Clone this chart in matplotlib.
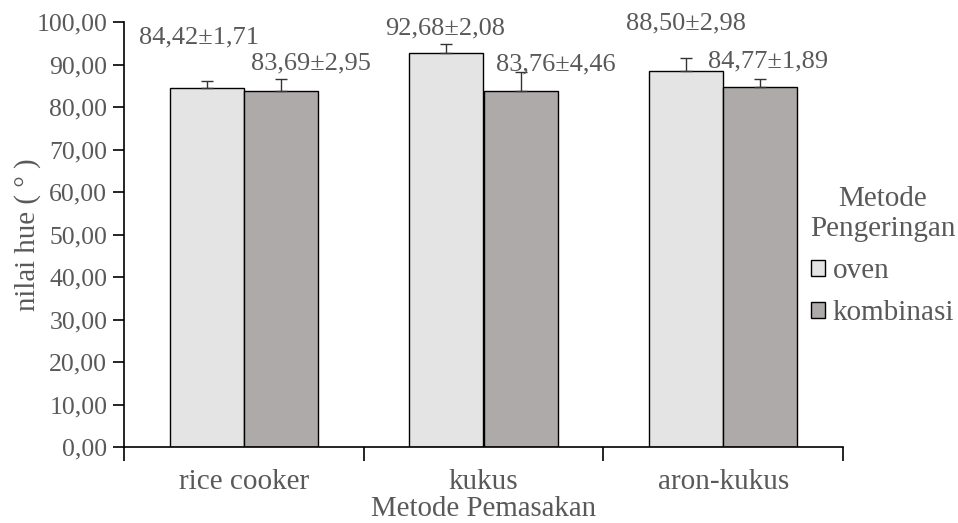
import numpy as np
import matplotlib.pyplot as plt
from matplotlib.patches import Patch

plt.rcParams['font.family'] = ['Liberation Serif', 'DejaVu Serif']

# data
metode_masak = ["rice cooker", "kukus", "aron-kukus"]
oven = [84.42, 92.68, 88.50]
oven_sd = [1.71, 2.08, 2.98]
kombinasi = [83.69, 83.76, 84.77]
kombinasi_sd = [2.95, 4.46, 1.89]
y_ticks = [0, 10, 20, 30, 40, 50, 60, 70, 80, 90, 100]

text_col = "#595959"
fs_tick = 18.5
fs_val = 19
fs_cat = 21
fs_title = 20.8

fig = plt.figure(figsize=(9.58, 5.23), dpi=100)
ax = fig.add_axes([124/958, 1-447/523, (843-124)/958, 425/523])

x = np.arange(len(metode_masak))
w = 0.31
ax.bar(x - w/2, oven, w, color="#e4e4e4", edgecolor="black", lw=1.0, zorder=2)
ax.bar(x + w/2, kombinasi, w, color="#aeaaa9", edgecolor="black", lw=1.0, zorder=2)

# upper error bars only
ax.errorbar(x - w/2, oven, yerr=[np.zeros(3), oven_sd], fmt="none",
            ecolor="#333333", elinewidth=1.0, capsize=4.5, capthick=1.0, zorder=3)
ax.errorbar(x + w/2, kombinasi, yerr=[np.zeros(3), kombinasi_sd], fmt="none",
            ecolor="#333333", elinewidth=1.0, capsize=4.5, capthick=1.0, zorder=3)

# value labels, shifted by hand like the original layout
off_oven = [(-8, 43), (-1, 16), (0, 35)]
off_komb = [(30, 15), (35, 8), (8, 17)]
for i in range(3):
    ax.annotate(f"{oven[i]:.2f}±{oven_sd[i]:.2f}".replace(".", ","),
                xy=(x[i] - w/2, oven[i] + oven_sd[i]), xytext=off_oven[i],
                textcoords="offset pixels", ha="center", va="center",
                fontsize=fs_val, color=text_col, annotation_clip=False)
    ax.annotate(f"{kombinasi[i]:.2f}±{kombinasi_sd[i]:.2f}".replace(".", ","),
                xy=(x[i] + w/2, kombinasi[i] + kombinasi_sd[i]), xytext=off_komb[i],
                textcoords="offset pixels", ha="center", va="center",
                fontsize=fs_val, color=text_col, annotation_clip=False)

ax.set_xlim(-0.5, 2.5)
ax.set_ylim(0, 100)
ax.set_yticks(y_ticks)
ax.set_yticklabels([f"{v:.2f}".replace(".", ",") for v in y_ticks])
ax.set_xticks(x)
ax.set_xticklabels(metode_masak)
ax.set_xticks([-0.5, 0.5, 1.5, 2.5], minor=True)
ax.tick_params(axis="x", which="major", length=0, pad=16, labelsize=fs_cat, labelcolor=text_col)
ax.tick_params(axis="x", which="minor", length=10, width=1.2, direction="out", color="black")
ax.tick_params(axis="y", length=8, width=1.2, direction="out", color="black",
               labelsize=fs_tick, labelcolor=text_col, pad=4)

for s in ["top", "right"]:
    ax.spines[s].set_visible(False)
for s in ["left", "bottom"]:
    ax.spines[s].set_linewidth(1.2)

ax.set_xlabel("Metode Pemasakan", fontsize=fs_title, color=text_col, labelpad=0.5)
ax.set_ylabel("nilai hue ( ° )", fontsize=fs_title, color=text_col)
ax.yaxis.set_label_coords(-0.115, 0.5)

handles = [Patch(facecolor="#e4e4e4", edgecolor="black", lw=1.0),
           Patch(facecolor="#aeaaa9", edgecolor="black", lw=1.0)]
leg = fig.legend(handles, ["oven", "kombinasi"], title="Metode\nPengeringan",
                 loc="center left", bbox_to_anchor=(810/958, 1-256/523),
                 frameon=False, fontsize=fs_cat, title_fontsize=fs_cat,
                 handlelength=0.48, handleheight=0.48, handletextpad=0.25,
                 labelspacing=0.55, borderpad=0, borderaxespad=0)
for t in leg.get_texts():
    t.set_color(text_col)
leg.get_title().set_color(text_col)
leg.get_title().set_multialignment("center")

fig.savefig("out.png", dpi=100)
